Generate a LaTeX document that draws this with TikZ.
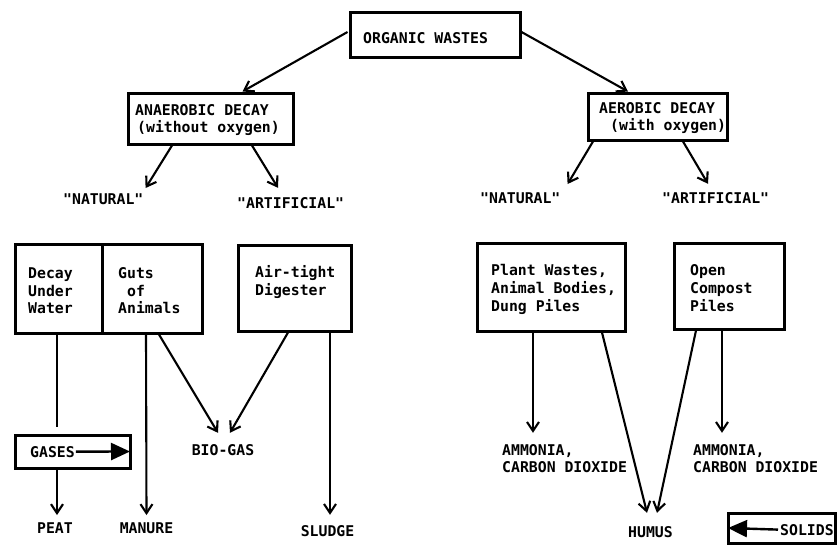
\documentclass[tikz,border=0pt]{standalone}
\usepackage{fontspec}
\newfontfamily\tw{DejaVu Sans Mono}
\usetikzlibrary{arrows.meta,calc}
\tikzset{
  box/.style={draw, line width=3pt, inner sep=0pt},
  txt/.style={inner sep=0pt, anchor=base west, font=\tw\bfseries\fontsize{14.8}{18}\selectfont},
  ctxt/.style={txt, anchor=base},
  arr/.style={line width=2.1pt, -{Straight Barb[length=9pt,width=12pt,line width=2.1pt]}},
  plain/.style={line width=2.1pt},
  legarr/.style={line width=2.4pt, -{Triangle[length=19pt,width=17pt]}}
}
\begin{document}
\begin{tikzpicture}[x=1pt,y=-1pt]
\useasboundingbox (0,0) rectangle (838,546);
% boxes
\node[box, minimum width=170pt, minimum height=45pt] (ow) at (435,34.5) {};
\node[box, minimum width=165pt, minimum height=51pt] (an) at (210.5,118.5) {};
\node[box, minimum width=139pt, minimum height=47pt] (ae) at (657.5,116.5) {};
\node[box, minimum width=87pt, minimum height=89pt] (decay) at (58.5,288.5) {};
\node[box, minimum width=100pt, minimum height=89pt] (guts) at (152,288.5) {};
\node[box, minimum width=113pt, minimum height=86pt] (dig) at (294.5,288) {};
\node[box, minimum width=148pt, minimum height=88pt] (plant) at (551,287) {};
\node[box, minimum width=110pt, minimum height=86pt] (comp) at (729,286) {};
\node[box, minimum width=115pt, minimum height=33pt] (gases) at (72.5,451.5) {};
\node[box, minimum width=107pt, minimum height=30pt] (solids) at (781.5,528) {};
% texts
\node[txt] (owt) at (363,43) {ORGANIC WASTES};
\node[txt] (ant1) at (135,115) {ANAEROBIC DECAY};
\node[txt] (ant2) at (137,132) {(without oxygen)};
\node[txt] (aet1) at (599,113) {AEROBIC DECAY};
\node[txt] (aet2) at (610,130) {(with oxygen)};
\node[txt] (nat1) at (63,204) {"NATURAL"};
\node[txt] (art1) at (237,208) {"ARTIFICIAL"};
\node[txt] (nat2) at (480,203) {"NATURAL"};
\node[txt] (art2) at (662,203) {"ARTIFICIAL"};
\node[txt] (dt1) at (28,278) {Decay};
\node[txt] (dt2) at (28,296) {Under};
\node[txt] (dt3) at (28,313) {Water};
\node[txt] (gt1) at (118,278) {Guts};
\node[txt] (gt2) at (127,296) {of};
\node[txt] (gt3) at (118,313) {Animals};
\node[txt] (dgt1) at (255,277) {Air-tight};
\node[txt] (dgt2) at (255,295) {Digester};
\node[txt] (pt1) at (491,275) {Plant Wastes,};
\node[txt] (pt2) at (491,293) {Animal Bodies,};
\node[txt] (pt3) at (491,311) {Dung Piles};
\node[txt] (ct1) at (690,275) {Open};
\node[txt] (ct2) at (690,293) {Compost};
\node[txt] (ct3) at (690,311) {Piles};
\node[txt] (gast) at (30,457) {GASES};
\node[txt] (solt) at (780,535) {SOLIDS};
\node[ctxt] (peat) at (55,533) {PEAT};
\node[ctxt] (manure) at (146.5,533) {MANURE};
\node[ctxt] (biogas) at (223,455) {BIO-GAS};
\node[ctxt] (sludge) at (327.5,536) {SLUDGE};
\node[txt] (amm1) at (502,455) {AMMONIA,};
\node[txt] (co1) at (502,472) {CARBON DIOXIDE};
\node[txt] (amm2) at (693,455) {AMMONIA,};
\node[txt] (co2) at (693,472) {CARBON DIOXIDE};
\node[ctxt] (humus) at (650.5,537) {HUMUS};
% connectors
\draw[arr] ($(ow.west)+(-1,-2.5)$) -- ($(an.north)+(32,0)$);
\draw[arr] ($(ow.east)+(0,-2.5)$) -- ($(ae.north)+(-29.5,0)$);
\draw[arr] ($(an.south)+(-38.5,0)$) -- ($(nat1.north east)+(2,-5)$);
\draw[arr] ($(an.south)+(41.5,0)$) -- ($(art1.north west)+(41,-9)$);
\draw[arr] ($(ae.south)+(-64.5,0)$) -- ($(nat2.north east)+(7,-8)$);
\draw[arr] ($(ae.south)+(25.5,0)$) -- ($(art2.north west)+(46,-8)$);
\draw[plain] ($(decay.south)+(-1.5,0)$) -- ($(gases.north)+(-15.5,-7)$);
\draw[arr] ($(gases.south)+(-15.5,0)$) -- ($(peat.north)+(2,-7)$);
\draw[arr] ($(guts.south)+(-6,0)$) -- ($(manure.north)+(0,-7)$);
\draw[arr] ($(guts.south)+(7,0)$) -- ($(biogas.north)+(-5,-11)$);
\draw[arr] ($(dig.south)+(-6.5,0)$) -- ($(biogas.north)+(7,-11)$);
\draw[arr] ($(dig.south)+(35.5,0)$) -- ($(sludge.north)+(2.5,-10)$);
\draw[arr] ($(plant.south)+(-18,0)$) -- ($(amm1.north west)+(31,-11)$);
\draw[arr] ($(plant.south)+(51,0)$) -- ($(humus.north)+(-3.5,-13)$);
\draw[arr] ($(comp.south)+(-33,0)$) -- ($(humus.north)+(6.5,-13)$);
\draw[arr] ($(comp.south)+(-7,0)$) -- ($(amm2.north west)+(29,-11)$);
\draw[legarr] ($(gast.east)+(1,0)$) -- ($(gases.east)+(-1.5,0)$);
\draw[legarr] ($(solt.west)+(-2,0)$) -- ($(solids.west)+(1.5,0)$);
\end{tikzpicture}
\end{document}
